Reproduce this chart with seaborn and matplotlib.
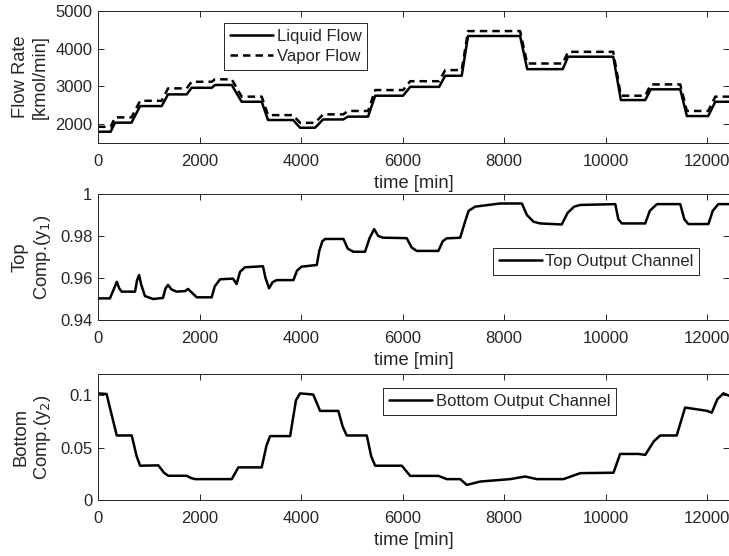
import numpy as np
import pandas as pd
import seaborn as sns
import matplotlib
matplotlib.use('Agg')
import matplotlib.pyplot as plt

# Dados (tempo em min)
t_flow = [0, 250, 335, 660, 830, 1255, 1380, 1747, 1845, 2240, 2305, 2635, 2830, 3225,
          3350, 3845, 3980, 4275, 4435, 4830, 4925, 5320, 5460, 6010, 6150, 6720, 6840,
          7165, 7290, 8315, 8455, 9155, 9260, 10150, 10300, 10780, 10890, 11470, 11600,
          12020, 12160, 12450]
liquid_flow = [1800, 1800, 2040, 2040, 2480, 2480, 2790, 2790, 2965, 2965, 3040, 3040,
               2595, 2595, 2110, 2110, 1905, 1905, 2125, 2125, 2200, 2200, 2755, 2755,
               2990, 2990, 3285, 3285, 4340, 4340, 3460, 3460, 3790, 3790, 2640, 2640,
               2925, 2925, 2215, 2215, 2595, 2595]
vapor_flow = [1930, 1930, 2180, 2180, 2620, 2620, 2950, 2950, 3125, 3125, 3190, 3190,
              2730, 2730, 2240, 2240, 2035, 2035, 2260, 2260, 2350, 2350, 2905, 2905,
              3140, 3140, 3435, 3435, 4470, 4470, 3610, 3610, 3920, 3920, 2755, 2755,
              3055, 3055, 2350, 2350, 2730, 2730]

t_top = [0, 236, 300, 370, 420, 467, 730, 770, 810, 850, 925, 1085, 1280, 1330, 1380,
         1450, 1550, 1720, 1775, 1830, 1945, 2240, 2300, 2405, 2660, 2730, 2800, 2895,
         3250, 3300, 3370, 3440, 3520, 3850, 3920, 4010, 4310, 4360, 4420, 4475, 4835,
         4920, 5030, 5260, 5350, 5440, 5520, 5615, 6080, 6180, 6280, 6705, 6790, 6870,
         7135, 7220, 7300, 7430, 7920, 8350, 8450, 8580, 8710, 9135, 9250, 9380, 9500,
         10190, 10250, 10320, 10780, 10870, 11010, 11470, 11550, 11630, 12025, 12110,
         12220, 12450]
y1_top = [0.9503, 0.9503, 0.9540, 0.9582, 0.9550, 0.9535, 0.9535, 0.9590, 0.9614, 0.9570,
          0.9514, 0.9500, 0.9505, 0.9550, 0.9567, 0.9545, 0.9535, 0.9538, 0.9548, 0.9535,
          0.9508, 0.9508, 0.9560, 0.9594, 0.9597, 0.9571, 0.9630, 0.9651, 0.9656, 0.9600,
          0.9551, 0.9580, 0.9590, 0.9590, 0.9635, 0.9654, 0.9662, 0.9730, 0.9775, 0.9786,
          0.9786, 0.9740, 0.9725, 0.9725, 0.9790, 0.9833, 0.9800, 0.9792, 0.9790, 0.9745,
          0.9729, 0.9729, 0.9775, 0.9789, 0.9792, 0.9860, 0.9920, 0.9940, 0.9955, 0.9955,
          0.9900, 0.9868, 0.9860, 0.9855, 0.9910, 0.9940, 0.9948, 0.9952, 0.9880, 0.9860,
          0.9860, 0.9920, 0.9952, 0.9952, 0.9880, 0.9857, 0.9857, 0.9920, 0.9952, 0.9952]

t_bot = [0, 170, 250, 370, 665, 760, 830, 1190, 1300, 1385, 1745, 1830, 1910, 2635, 2765,
         3225, 3320, 3390, 3785, 3900, 3980, 4240, 4375, 4735, 4820, 4900, 5295, 5380,
         5460, 5985, 6150, 6705, 6870, 7135, 7265, 7530, 8120, 8415, 8645, 9170, 9500,
         10155, 10285, 10645, 10780, 10950, 11075, 11400, 11565, 11995, 12090, 12200,
         12320, 12450]
y2_bot = [0.1016, 0.1010, 0.0850, 0.0615, 0.0615, 0.0420, 0.0327, 0.0330, 0.0260, 0.0231,
          0.0231, 0.0210, 0.0199, 0.0199, 0.0311, 0.0311, 0.0520, 0.0609, 0.0609, 0.0950,
          0.1016, 0.1005, 0.0849, 0.0849, 0.0700, 0.0615, 0.0615, 0.0420, 0.0327, 0.0327,
          0.0230, 0.0230, 0.0199, 0.0199, 0.0144, 0.0176, 0.0199, 0.0224, 0.0199, 0.0199,
          0.0256, 0.0260, 0.0439, 0.0439, 0.0430, 0.0560, 0.0615, 0.0615, 0.0881, 0.0850,
          0.0832, 0.0960, 0.1016, 0.0990]

x_ticks = [0, 2000, 4000, 6000, 8000, 10000, 12000]

sns.set_theme(style='ticks')
plt.rcParams['font.family'] = ['Liberation Sans', 'DejaVu Sans']
cinza = '#262626'
plt.rcParams.update({
    'axes.edgecolor': cinza, 'xtick.color': cinza, 'ytick.color': cinza,
    'axes.labelcolor': cinza, 'text.color': cinza, 'axes.linewidth': 0.7,
    'xtick.direction': 'in', 'ytick.direction': 'in',
    'xtick.top': True, 'ytick.right': True,
    'xtick.major.size': 4, 'ytick.major.size': 4,
    'xtick.major.width': 0.7, 'ytick.major.width': 0.7,
})
fs = 12
fs_lab = 13.2
leg_kw = dict(fontsize=fs, borderaxespad=0, handlelength=2.6, handletextpad=0.2,
              labelspacing=0.3, borderpad=0.35)

fig = plt.figure(figsize=(7.29, 5.56), dpi=100)
ax1 = fig.add_axes([0.1344, 0.7428, 0.8656, 0.2372])
ax2 = fig.add_axes([0.1344, 0.4245, 0.8656, 0.2265])
ax3 = fig.add_axes([0.1344, 0.1007, 0.8656, 0.2265])

df_flow = pd.DataFrame({'t': t_flow, 'Liquid Flow': liquid_flow, 'Vapor Flow': vapor_flow})
sns.lineplot(data=df_flow, x='t', y='Liquid Flow', ax=ax1, color='black', lw=1.8,
             label='Liquid Flow')
sns.lineplot(data=df_flow, x='t', y='Vapor Flow', ax=ax1, color='black', lw=1.8,
             linestyle=(0, (3, 2)), label='Vapor Flow')
ax1.set_ylim(1500, 5000)
ax1.set_yticks([2000, 3000, 4000, 5000])
ax1.set_ylabel('Flow Rate\n[kmol/min]', fontsize=fs_lab, labelpad=5)
ax1.legend(loc='upper left', bbox_to_anchor=(0.2, 0.91), **leg_kw)

df_top = pd.DataFrame({'t': t_top, 'y1': y1_top})
sns.lineplot(data=df_top, x='t', y='y1', ax=ax2, color='black', lw=1.8,
             label='Top Output Channel')
ax2.set_ylim(0.94, 1.0)
ax2.set_yticks([0.94, 0.96, 0.98, 1.0])
ax2.set_yticklabels(['0.94', '0.96', '0.98', '1'])
ax2.set_ylabel('Top\nComp.(y$_1$)', fontsize=fs_lab, labelpad=5)
ax2.legend(loc='upper left', bbox_to_anchor=(0.6255, 0.569), **leg_kw)

df_bot = pd.DataFrame({'t': t_bot, 'y2': y2_bot})
sns.lineplot(data=df_bot, x='t', y='y2', ax=ax3, color='black', lw=1.8,
             label='Bottom Output Channel')
ax3.set_ylim(0, 0.12)
ax3.set_yticks([0, 0.05, 0.1])
ax3.set_yticklabels(['0', '0.05', '0.1'])
ax3.set_ylabel('Bottom\nComp.(y$_2$)', fontsize=fs_lab, labelpad=5)
ax3.legend(loc='upper left', bbox_to_anchor=(0.452, 0.886), **leg_kw)

for ax in [ax1, ax2, ax3]:
    ax.set_xlim(0, 12430)
    ax.set_xticks(x_ticks)
    ax.set_xticklabels([str(v) for v in x_ticks])
    ax.tick_params(labelsize=fs)
    ax.tick_params(axis='x', pad=8)
    ax.tick_params(axis='y', pad=4)
    ax.set_xlabel('time [min]', fontsize=fs_lab, labelpad=4)
    for s in ax.spines.values():
        s.set_visible(True)
    leg = ax.get_legend()
    leg.get_frame().set_edgecolor(cinza)
    leg.get_frame().set_linewidth(0.7)
    leg.get_frame().set_boxstyle('square', pad=0)
    leg.get_frame().set_alpha(1)
    for h in leg.get_lines():
        h.set_linewidth(1.8)

# rótulo do painel de cima fica parcialmente sob o painel do meio
ax1.xaxis.label.set_zorder(0)
ax2.set_zorder(2)
ax2.patch.set_alpha(1)

fig.savefig('out.png', dpi=100)
